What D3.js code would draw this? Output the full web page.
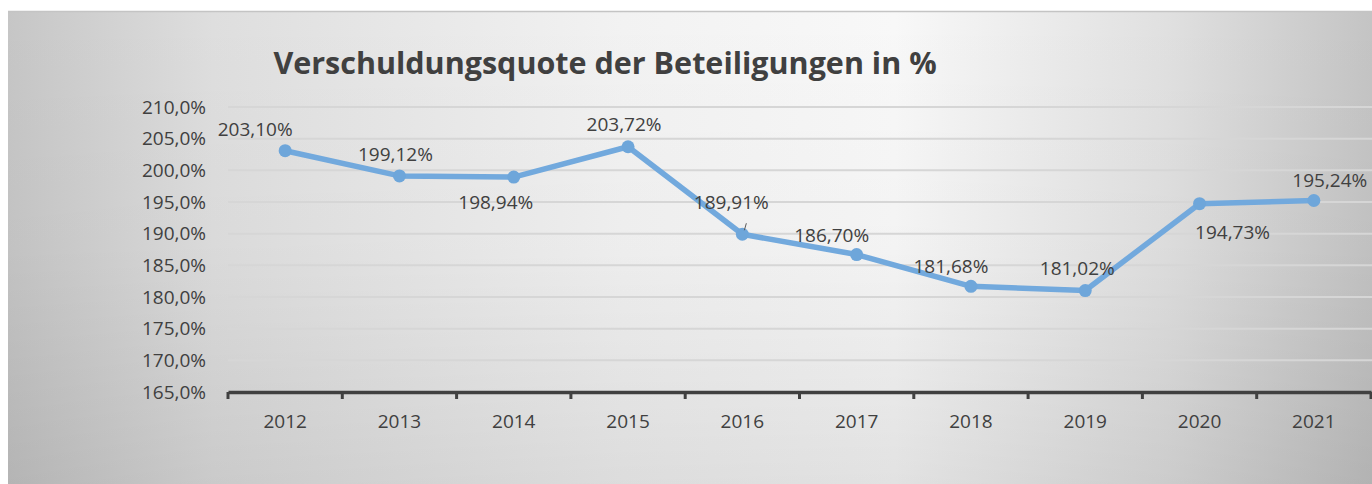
<!DOCTYPE html>
<html>
<head>
<meta charset="utf-8">
<script src="https://cdn.jsdelivr.net/npm/d3@7"></script>
<style>
  html, body { margin: 0; padding: 0; background: #ffffff; }
  svg { display: block; }
</style>
</head>
<body>
<div id="chart"></div>
<script>
// Daten
const years = ["2012", "2013", "2014", "2015", "2016", "2017", "2018", "2019", "2020", "2021"];
const quote = [203.10, 199.12, 198.94, 203.72, 189.91, 186.70, 181.68, 181.02, 194.73, 195.24];
const yTicks = [165, 170, 175, 180, 185, 190, 195, 200, 205, 210];

// Lage der Beschriftungen relativ zum Punkt (nur Layout)
const labelOffset = [
  [-30, -21], [-4, -22], [-18, 25], [-4, -22], [-11, -32],
  [-25, -19], [-20, -20], [-8, -22], [33, 29], [16, -20]
];

const width = 1372, height = 484;
const margin = { top: 107, right: 1, bottom: 92, left: 228 };
const font = "'Open Sans', sans-serif";

const svg = d3.select("#chart").append("svg")
  .attr("width", width)
  .attr("height", height);

// Hintergrundverlauf
const defs = svg.append("defs");
const gradH = defs.append("linearGradient")
  .attr("id", "bgH")
  .attr("x1", "0").attr("x2", "1").attr("y1", "0").attr("y2", "0");
gradH.append("stop").attr("offset", "0%").attr("stop-color", "#c6c6c6");
gradH.append("stop").attr("offset", "15%").attr("stop-color", "#dedede");
gradH.append("stop").attr("offset", "45%").attr("stop-color", "#f2f2f2");
gradH.append("stop").attr("offset", "65%").attr("stop-color", "#f8f8f8");
gradH.append("stop").attr("offset", "85%").attr("stop-color", "#e0e0e0");
gradH.append("stop").attr("offset", "100%").attr("stop-color", "#c4c4c4");

const gradV = defs.append("linearGradient")
  .attr("id", "bgV")
  .attr("x1", "0").attr("x2", "0").attr("y1", "0").attr("y2", "1");
gradV.append("stop").attr("offset", "0%").attr("stop-color", "#000").attr("stop-opacity", 0);
gradV.append("stop").attr("offset", "50%").attr("stop-color", "#000").attr("stop-opacity", 0.02);
gradV.append("stop").attr("offset", "100%").attr("stop-color", "#000").attr("stop-opacity", 0.09);

svg.append("rect")
  .attr("x", 8).attr("y", 11)
  .attr("width", width - 8).attr("height", height - 11)
  .attr("fill", "url(#bgH)");
svg.append("rect")
  .attr("x", 8).attr("y", 11)
  .attr("width", width - 8).attr("height", height - 11)
  .attr("fill", "url(#bgV)");
svg.append("line")
  .attr("x1", 8).attr("x2", width).attr("y1", 11.5).attr("y2", 11.5)
  .attr("stroke", "#c4c4c4").attr("stroke-width", 1.5);

const x = d3.scaleBand()
  .domain(years)
  .range([margin.left, width - margin.right]);

const y = d3.scaleLinear()
  .domain([165, 210])
  .range([height - margin.bottom, margin.top]);

// Titel
svg.append("text")
  .attr("x", 605)
  .attr("y", 74)
  .attr("text-anchor", "middle")
  .style("font-family", font)
  .style("font-size", "30.5px")
  .style("font-weight", "bold")
  .style("fill", "#404040")
  .text("Verschuldungsquote der Beteiligungen in %");

// Gitterlinien
svg.append("g")
  .selectAll("line")
  .data(yTicks.filter(t => t > 165))
  .enter()
  .append("line")
  .attr("x1", margin.left)
  .attr("x2", width)
  .attr("y1", d => y(d))
  .attr("y2", d => y(d))
  .attr("stroke", "#d6d6d6")
  .attr("stroke-width", 2);

// y-Achse (nur Beschriftung)
const yAxis = svg.append("g")
  .attr("transform", `translate(${margin.left - 22},0)`)
  .call(d3.axisLeft(y)
    .tickValues(yTicks)
    .tickSize(0)
    .tickFormat(d => d3.format(".1f")(d).replace(".", ",") + "%"));
yAxis.select(".domain").remove();
yAxis.selectAll("text")
  .attr("x", 0)
  .style("font-family", font)
  .style("font-size", "19px")
  .style("fill", "#404040");

// x-Achse
const xAxis = svg.append("g")
  .attr("transform", `translate(0,${y(165)})`)
  .call(d3.axisBottom(x).tickSize(0).tickPadding(23));
xAxis.select(".domain")
  .attr("stroke", "#404040")
  .attr("stroke-width", 3.5);
xAxis.selectAll("text")
  .style("font-family", font)
  .style("font-size", "19px")
  .style("fill", "#404040");

// Teilstriche zwischen den Kategorien
const bounds = years.map(d => x(d)).concat([x(years[years.length - 1]) + x.bandwidth()]);
svg.append("g")
  .selectAll("line")
  .data(bounds)
  .enter()
  .append("line")
  .attr("x1", d => d)
  .attr("x2", d => d)
  .attr("y1", y(165))
  .attr("y2", y(165) + 7)
  .attr("stroke", "#404040")
  .attr("stroke-width", 3);

// Linie
const pts = years.map((d, i) => ({ year: d, value: quote[i], i: i }));
const line = d3.line()
  .x(d => x(d.year) + x.bandwidth() / 2)
  .y(d => y(d.value));

svg.append("path")
  .datum(pts)
  .attr("d", line)
  .attr("fill", "none")
  .attr("stroke", "#72a9dd")
  .attr("stroke-width", 5.5)
  .attr("stroke-linejoin", "round");

svg.append("g")
  .selectAll("circle")
  .data(pts)
  .enter()
  .append("circle")
  .attr("cx", d => x(d.year) + x.bandwidth() / 2)
  .attr("cy", d => y(d.value))
  .attr("r", 6.5)
  .attr("fill", "#6ea6da");

// Führungslinie für 2016
const p16 = pts[4];
svg.append("line")
  .attr("x1", x(p16.year) + x.bandwidth() / 2 + 2)
  .attr("x2", x(p16.year) + x.bandwidth() / 2 + 4)
  .attr("y1", y(p16.value) - 4)
  .attr("y2", y(p16.value) - 11)
  .attr("stroke", "#595959")
  .attr("stroke-width", 1);

// Datenbeschriftungen
svg.append("g")
  .selectAll("text")
  .data(pts)
  .enter()
  .append("text")
  .attr("x", d => x(d.year) + x.bandwidth() / 2 + labelOffset[d.i][0])
  .attr("y", d => y(d.value) + labelOffset[d.i][1])
  .attr("dy", "0.35em")
  .attr("text-anchor", "middle")
  .style("font-family", font)
  .style("font-size", "19px")
  .style("fill", "#404040")
  .text(d => d3.format(".2f")(d.value).replace(".", ",") + "%");
</script>
</body>
</html>
